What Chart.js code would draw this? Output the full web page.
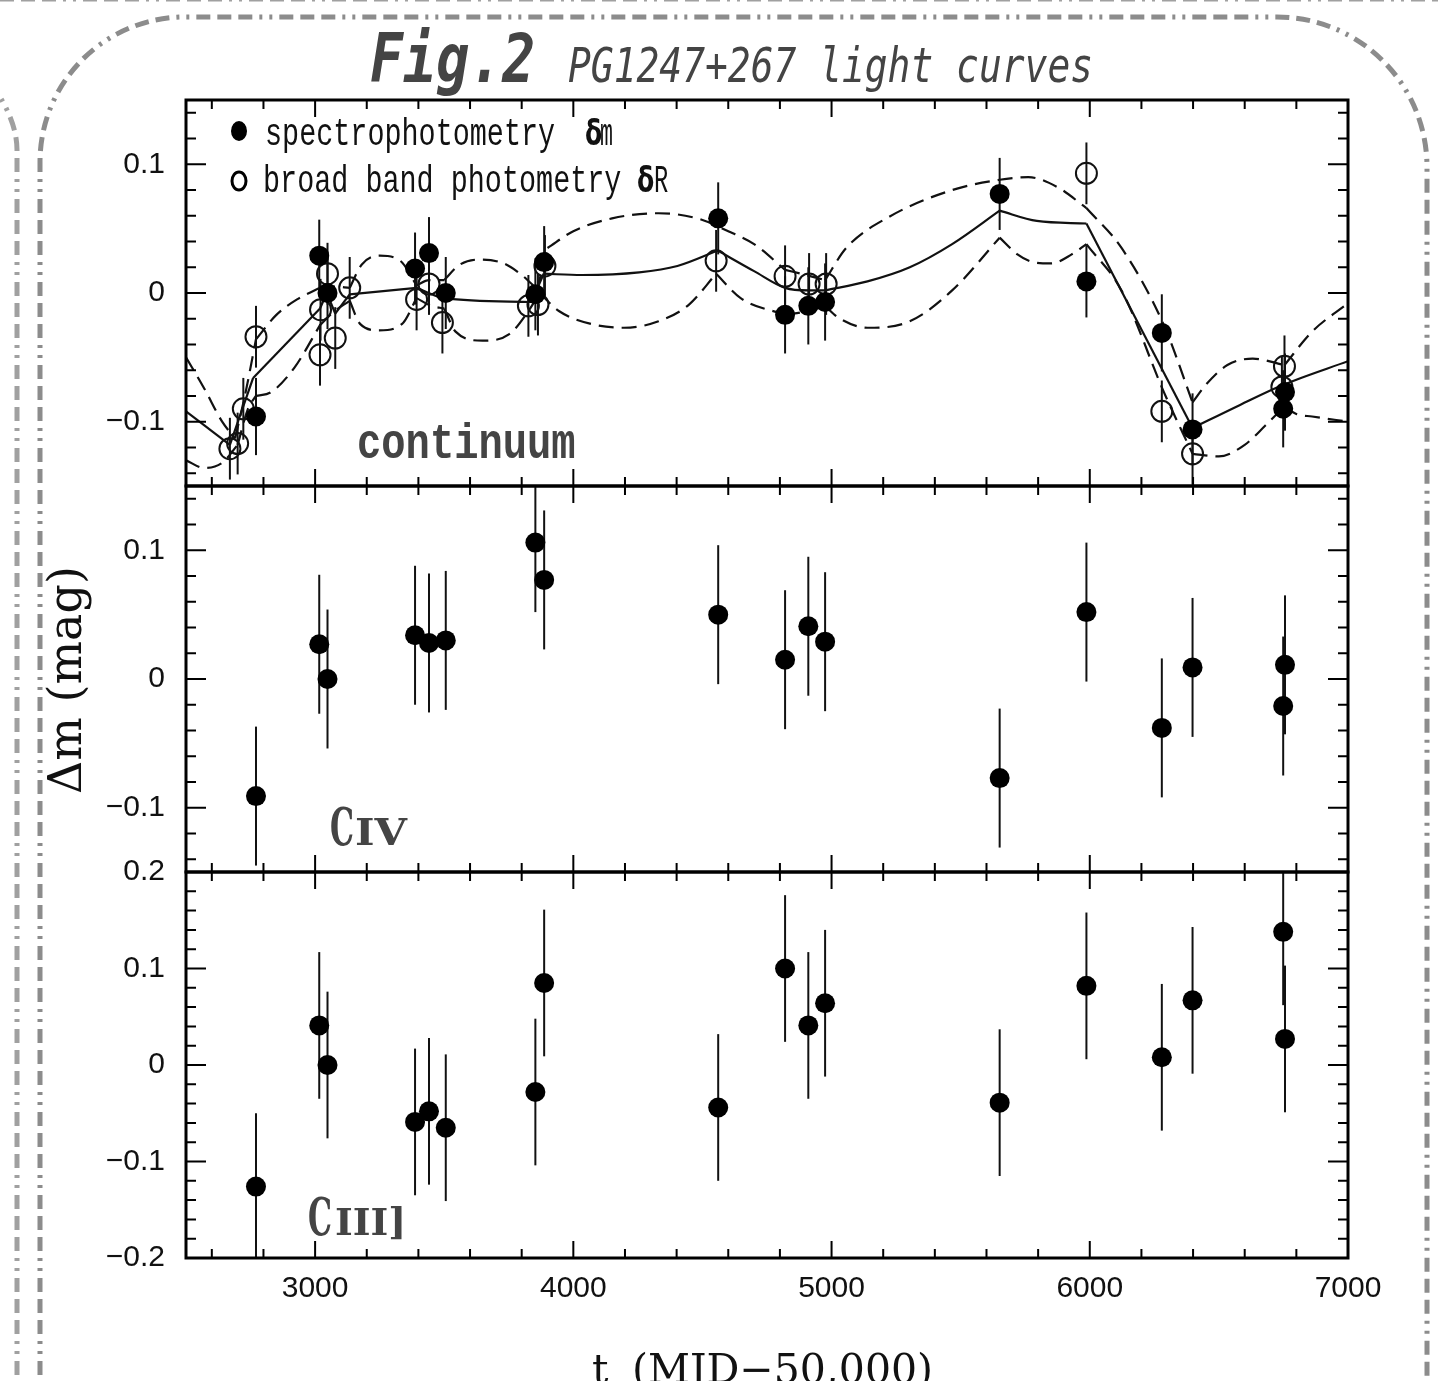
<!DOCTYPE html>
<html>
<head>
<meta charset="utf-8">
<script src="https://cdn.jsdelivr.net/npm/chart.js@4.4.1/dist/chart.umd.min.js"></script>
<style>
  body { margin: 0; background: #fff; width: 1438px; height: 1381px; overflow: hidden; position: relative; }
  canvas { position: absolute; left: 0; }
</style>
</head>
<body>
<canvas id="deco" width="1438" height="1381" style="top:0"></canvas>
<canvas id="cont" width="1438" height="500" style="top:0"></canvas>
<canvas id="civ" width="1438" height="400" style="top:480px"></canvas>
<canvas id="ciii" width="1438" height="521" style="top:860px"></canvas>
<script>
// x range and tick labels (t = MJD - 50000)
const xMin = 2500, xMax = 7000;
const xTickLabels = [3000, 4000, 5000, 6000, 7000];
const contTicks = [-0.1, 0, 0.1];
const civTicks = [-0.1, 0, 0.1];
const ciiiTicks = [-0.2, -0.1, 0, 0.1, 0.2];

// spectroscopic epochs, shared by all three panels
const epochs = [2771, 3016, 3048, 3387, 3441, 3506, 3853, 3887, 4561, 4820, 4910, 4975, 5651, 5987, 6279, 6398, 6749, 6756];
const contDm  = [-0.096, 0.029, 0.000, 0.019, 0.031, 0.000, -0.001, 0.024, 0.058, -0.017, -0.010, -0.007, 0.077, 0.009, -0.031, -0.106, -0.090, -0.077];
const contErr = [0.030, 0.028, 0.028, 0.028, 0.028, 0.028, 0.028, 0.028, 0.028, 0.030, 0.030, 0.030, 0.028, 0.028, 0.030, 0.028, 0.030, 0.030];
const civDm   = [-0.091, 0.027, 0.000, 0.034, 0.028, 0.030, 0.106, 0.077, 0.050, 0.015, 0.041, 0.029, -0.077, 0.052, -0.038, 0.009, -0.021, 0.011];
const civErr  = [0.054, 0.054, 0.054, 0.054, 0.054, 0.054, 0.054, 0.054, 0.054, 0.054, 0.054, 0.054, 0.054, 0.054, 0.054, 0.054, 0.054, 0.054];
const ciiiDm  = [-0.126, 0.041, 0.000, -0.059, -0.048, -0.065, -0.028, 0.085, -0.044, 0.100, 0.041, 0.064, -0.039, 0.082, 0.008, 0.067, 0.138, 0.027];
const ciiiErr = [0.076, 0.076, 0.076, 0.076, 0.076, 0.076, 0.076, 0.076, 0.076, 0.076, 0.076, 0.076, 0.076, 0.076, 0.076, 0.076, 0.076, 0.076];

// broad band photometry
const photT  = [2670, 2700, 2722, 2771, 3019, 3021, 3048, 3078, 3134, 3393, 3441, 3493, 3826, 3863, 3890, 4553, 4820, 4913, 4979, 5987, 6279, 6398, 6754, 6744];
const photDR = [-0.121, -0.117, -0.090, -0.034, -0.048, -0.013, 0.015, -0.035, 0.004, -0.005, 0.007, -0.023, -0.010, -0.009, 0.021, 0.025, 0.013, 0.007, 0.007, 0.093, -0.092, -0.125, -0.057, -0.073];
const photErr = [0.024, 0.024, 0.024, 0.024, 0.024, 0.024, 0.024, 0.024, 0.024, 0.024, 0.024, 0.024, 0.024, 0.024, 0.024, 0.024, 0.024, 0.024, 0.024, 0.024, 0.024, 0.024, 0.024, 0.024];

// model light curve (solid) and its envelope (dashed); kinks = where the curve breaks
const midT = [2500, 2670, 2760, 3019, 3045, 3078, 3134, 3393, 3500, 3838, 3885, 4033, 4255, 4403, 4559, 4700, 4820, 4910, 4975, 5139, 5303, 5467, 5651, 5795, 5987, 6398, 6582, 6754, 7000];
const midV = [-0.092, -0.118, -0.066, -0.012, 0.000, -0.016, -0.001, 0.004, -0.004, -0.007, 0.015, 0.014, 0.016, 0.021, 0.033, 0.017, 0.004, 0.002, 0.002, 0.009, 0.020, 0.038, 0.064, 0.056, 0.054, -0.105, -0.087, -0.071, -0.053];
const midKinks = [2670, 2760, 3019, 3045, 3078, 3134, 3393, 3838, 3885, 4559, 4975, 5651, 5987, 6398];

const upT = [2500, 2570, 2640, 2690, 2730, 2771, 2850, 2930, 3019, 3070, 3134, 3180, 3250, 3330, 3393, 3441, 3500, 3560, 3640, 3730, 3800, 3860, 3900, 4000, 4150, 4330, 4480, 4600, 4700, 4820, 4900, 4975, 5057, 5221, 5467, 5651, 5762, 5877, 5987, 6123, 6287, 6398, 6451, 6533, 6631, 6754, 6861, 7000];
const upV = [-0.050, -0.074, -0.100, -0.113, -0.078, -0.036, -0.017, -0.005, 0.004, 0.005, 0.004, 0.022, 0.029, 0.025, 0.006, 0.010, 0.010, 0.022, 0.026, 0.023, 0.014, 0.003, 0.035, 0.048, 0.058, 0.062, 0.058, 0.048, 0.038, 0.018, 0.014, 0.010, 0.035, 0.059, 0.080, 0.088, 0.090, 0.082, 0.066, 0.035, -0.025, -0.085, -0.071, -0.056, -0.051, -0.056, -0.030, -0.008];
const upKinks = [2690, 2771, 3019, 3134, 3393, 3500, 3860, 3900, 4820, 4975, 5987, 6398, 6754];

const loT = [2500, 2570, 2640, 2700, 2740, 2771, 2830, 2920, 3019, 3070, 3134, 3174, 3248, 3337, 3393, 3450, 3500, 3544, 3648, 3752, 3826, 3870, 3944, 4078, 4196, 4330, 4448, 4553, 4648, 4820, 4910, 4975, 5025, 5139, 5303, 5467, 5651, 5720, 5780, 5850, 5930, 5987, 6123, 6287, 6398, 6500, 6600, 6680, 6754, 6800, 6861, 7000];
const loV = [-0.130, -0.136, -0.132, -0.118, -0.090, -0.080, -0.077, -0.058, -0.025, -0.015, -0.006, -0.024, -0.029, -0.024, -0.004, -0.010, -0.012, -0.030, -0.037, -0.032, -0.014, 0.000, -0.014, -0.0245, -0.027, -0.022, -0.009, 0.015, -0.004, -0.017, -0.014, -0.010, -0.019, -0.027, -0.022, 0.002, 0.043, 0.030, 0.024, 0.023, 0.030, 0.038, 0.002, -0.077, -0.125, -0.127, -0.118, -0.103, -0.088, -0.094, -0.096, -0.100];
const loKinks = [2700, 2771, 3019, 3134, 3393, 3500, 3870, 4553, 4820, 4975, 5651, 5987, 6398, 6754];

Chart.defaults.font.family = '"Liberation Sans", Arial, sans-serif';
Chart.defaults.color = '#111';

function points(ts, vs) {
  return ts.map((t, i) => ({ x: t, y: vs[i] }));
}

// split a curve into pieces at its kinks, so each piece is smoothed on its own
function segments(ts, vs, kinks) {
  const out = [];
  let cur = [];
  ts.forEach((t, i) => {
    cur.push({ x: t, y: vs[i] });
    if (i > 0 && i < ts.length - 1 && kinks.includes(t)) {
      out.push(cur);
      cur = [{ x: t, y: vs[i] }];
    }
  });
  out.push(cur);
  return out;
}

function lineSets(segs, dash) {
  return segs.map(d => ({
    data: d, showLine: true, borderColor: '#111', borderWidth: 2.2, borderDash: dash,
    pointRadius: 0, cubicInterpolationMode: 'monotone', fill: false, order: 5
  }));
}

function filledSet(ts, vs, errs) {
  return { data: points(ts, vs), errors: errs, showLine: false, pointRadius: 10,
    pointBackgroundColor: '#000', pointBorderColor: '#000', pointBorderWidth: 0, order: 0 };
}

function openSet(ts, vs, errs) {
  return { data: points(ts, vs), errors: errs, showLine: false, pointRadius: 10.5,
    pointBackgroundColor: 'rgba(0,0,0,0)', pointBorderColor: '#111', pointBorderWidth: 2, order: 1 };
}

function fmt(v) {
  if (Math.abs(v) < 1e-9) return '0';
  return (v < 0 ? '\u2212' : '') + Math.abs(v).toFixed(1);
}

const errorBars = {
  id: 'errorBars',
  beforeDatasetsDraw(chart) {
    const { ctx, chartArea: a, scales: { x, y } } = chart;
    ctx.save();
    ctx.beginPath();
    ctx.rect(a.left, a.top, a.width, a.height);
    ctx.clip();
    ctx.strokeStyle = '#111';
    ctx.lineWidth = 2;
    chart.data.datasets.forEach(ds => {
      if (!ds.errors) return;
      ds.data.forEach((p, i) => {
        const px = x.getPixelForValue(p.x);
        ctx.beginPath();
        ctx.moveTo(px, y.getPixelForValue(p.y - ds.errors[i]));
        ctx.lineTo(px, y.getPixelForValue(p.y + ds.errors[i]));
        ctx.stroke();
      });
    });
    ctx.restore();
  }
};

// box with inward ticks on all four sides
const frame = {
  id: 'frame',
  afterDraw(chart) {
    const { ctx, chartArea: a, scales: { x, y } } = chart;
    ctx.save();
    ctx.strokeStyle = '#000';
    ctx.lineWidth = 2;
    ctx.beginPath();
    for (let t = 2600; t < xMax; t += 200) {
      const px = x.getPixelForValue(t);
      const len = t % 1000 === 0 ? 17 : 9;
      ctx.moveTo(px, a.bottom); ctx.lineTo(px, a.bottom - len);
      ctx.moveTo(px, a.top); ctx.lineTo(px, a.top + len);
    }
    const k0 = Math.ceil(y.min * 50 - 1e-6), k1 = Math.floor(y.max * 50 + 1e-6);
    for (let k = k0; k <= k1; k++) {
      const v = k / 50;
      if (Math.abs(v - y.min) < 1e-6 || Math.abs(v - y.max) < 1e-6) continue;
      const py = y.getPixelForValue(v);
      const len = k % 5 === 0 ? 20 : 10;
      ctx.moveTo(a.left, py); ctx.lineTo(a.left + len, py);
      ctx.moveTo(a.right, py); ctx.lineTo(a.right - len, py);
    }
    ctx.stroke();
    ctx.lineWidth = 3;
    ctx.strokeRect(a.left, a.top, a.width, a.height);
    ctx.restore();
  }
};

function txt(ctx, s, x, y, font, color, sx, sy, align) {
  ctx.save();
  ctx.translate(x, y);
  ctx.scale(sx || 1, sy || 1);
  ctx.font = font;
  ctx.fillStyle = color;
  ctx.textAlign = align || 'left';
  ctx.textBaseline = 'alphabetic';
  ctx.fillText(s, 0, 0);
  ctx.restore();
}

function baseOptions(yMin, yMax, yTicks, showX, padTop, padBottom, labels) {
  return {
    responsive: false, animation: false, devicePixelRatio: 1,
    layout: { autoPadding: false, padding: { left: 0, right: 90, top: padTop, bottom: padBottom } },
    plugins: { legend: { display: false }, tooltip: { enabled: false }, labels: labels },
    scales: {
      x: {
        type: 'linear', min: xMin, max: xMax, display: showX,
        border: { display: false }, grid: { display: false, drawTicks: false },
        afterBuildTicks: s => { s.ticks = xTickLabels.map(v => ({ value: v })); },
        ticks: { padding: 13, autoSkip: false, maxRotation: 0, color: '#111', font: { size: 30 },
          callback: v => String(v) },
        afterFit: s => {
          s.height = showX ? 123 : 0;
          s.paddingLeft = 0; s.paddingRight = 0;
        }
      },
      y: {
        type: 'linear', min: yMin, max: yMax,
        border: { display: false }, grid: { display: false, drawTicks: false },
        afterBuildTicks: s => { s.ticks = yTicks.map(v => ({ value: v })); },
        ticks: { padding: 21, autoSkip: false, color: '#111', font: { size: 30 }, callback: fmt },
        afterFit: s => {
          s.width = 186;
          s.paddingTop = 0; s.paddingBottom = 0;
        }
      }
    }
  };
}

// texts that belong to each panel
const labels = {
  id: 'labels',
  afterDraw(chart, args, opts) {
    if (opts && opts.draw) opts.draw(chart.ctx);
  }
};

function drawContLabels(ctx) {
  txt(ctx, 'Fig.2', 370, 82, 'bold italic 67px "DejaVu Sans Mono"', '#444', 0.82, 1);
  txt(ctx, 'PG1247+267 light curves', 568, 82, 'italic 48px "DejaVu Sans Mono"', '#444', 0.79, 1);
  ctx.save();
  ctx.fillStyle = '#000';
  ctx.beginPath(); ctx.ellipse(239, 131, 8, 10, 0, 0, Math.PI * 2); ctx.fill();
  ctx.strokeStyle = '#000'; ctx.lineWidth = 3;
  ctx.beginPath(); ctx.ellipse(239, 181, 7, 9, 0, 0, Math.PI * 2); ctx.stroke();
  ctx.restore();
  txt(ctx, 'spectrophotometry', 265, 145, '36px "Liberation Mono"', '#111', 0.79, 1.1);
  txt(ctx, '\u03b4', 585, 145, 'bold 36px "DejaVu Sans"', '#111', 0.7, 1);
  txt(ctx, 'm', 600, 145, '36px "Liberation Mono"', '#111', 0.6, 1.1);
  txt(ctx, 'broad band photometry', 263, 192, '36px "Liberation Mono"', '#111', 0.79, 1.1);
  txt(ctx, '\u03b4', 637, 192, 'bold 36px "DejaVu Sans"', '#111', 0.7, 1);
  txt(ctx, 'R', 654, 192, '36px "Liberation Mono"', '#111', 0.66, 1.1);
  txt(ctx, 'continuum', 357, 458, 'bold 46px "Liberation Mono"', '#444', 0.88, 1.1);
}

function drawCivLabels(ctx) {
  txt(ctx, 'C', 330, 365, 'bold 52px "DejaVu Serif"', '#444', 0.58, 1);
  txt(ctx, 'IV', 355, 365, 'bold 38px "DejaVu Serif"', '#444', 1.1, 1);
  ctx.save();
  ctx.translate(81, 200);
  ctx.rotate(-Math.PI / 2);
  ctx.font = '46px "DejaVu Serif"';
  ctx.fillStyle = '#111';
  ctx.textAlign = 'center';
  ctx.fillText('\u0394m (mag)', 0, 0);
  ctx.restore();
}

function drawCiiiLabels(ctx) {
  txt(ctx, 'C', 308, 375, 'bold 52px "DejaVu Serif"', '#444', 0.58, 1);
  txt(ctx, 'III]', 335, 375, 'bold 38px "DejaVu Serif"', '#444', 1, 1);
  txt(ctx, 't', 592, 523, '41px "DejaVu Serif"', '#111', 1, 1);
  txt(ctx, '(MJD\u221250,000)', 632, 523, '41px "DejaVu Serif"', '#111', 1, 1);
}

new Chart(document.getElementById('cont'), {
  type: 'scatter',
  data: {
    datasets: [
      filledSet(epochs, contDm, contErr),
      openSet(photT, photDR, photErr),
      ...lineSets(segments(midT, midV, midKinks), []),
      ...lineSets(segments(upT, upV, upKinks), [15, 8]),
      ...lineSets(segments(loT, loV, loKinks), [15, 8])
    ]
  },
  options: baseOptions(-0.15, 0.15, contTicks, false, 100, 14, { draw: drawContLabels }),
  plugins: [errorBars, frame, labels]
});

new Chart(document.getElementById('civ'), {
  type: 'scatter',
  data: { datasets: [filledSet(epochs, civDm, civErr)] },
  options: baseOptions(-0.15, 0.15, civTicks, false, 6, 8, { draw: drawCivLabels }),
  plugins: [errorBars, frame, labels]
});

new Chart(document.getElementById('ciii'), {
  type: 'scatter',
  data: { datasets: [filledSet(epochs, ciiiDm, ciiiErr)] },
  options: baseOptions(-0.2, 0.2, ciiiTicks, true, 12, 0, { draw: drawCiiiLabels }),
  plugins: [errorBars, frame, labels]
});

// dash-dot rounded border around the figure
(function () {
  const ctx = document.getElementById('deco').getContext('2d');
  ctx.lineWidth = 5;
  ctx.setLineDash([14, 7, 14, 7, 14, 7, 3, 7, 3, 7]);
  ctx.strokeStyle = '#8c8c8c';
  ctx.beginPath();
  ctx.moveTo(40, 1500);
  ctx.lineTo(40, 162);
  ctx.arcTo(40, 17, 185, 17, 145);
  ctx.lineTo(1277, 17);
  ctx.arcTo(1427, 17, 1427, 167, 150);
  ctx.lineTo(1427, 1500);
  ctx.stroke();
  // outer frame, mostly cut off by the page edge
  ctx.strokeStyle = '#a0a0a0';
  ctx.beginPath();
  ctx.moveTo(17, 1500);
  ctx.lineTo(17, 150);
  ctx.quadraticCurveTo(17, 120, -8, 85);
  ctx.stroke();
  ctx.beginPath();
  ctx.moveTo(0, -1);
  ctx.lineTo(1438, -1);
  ctx.stroke();
})();
</script>
</body>
</html>
